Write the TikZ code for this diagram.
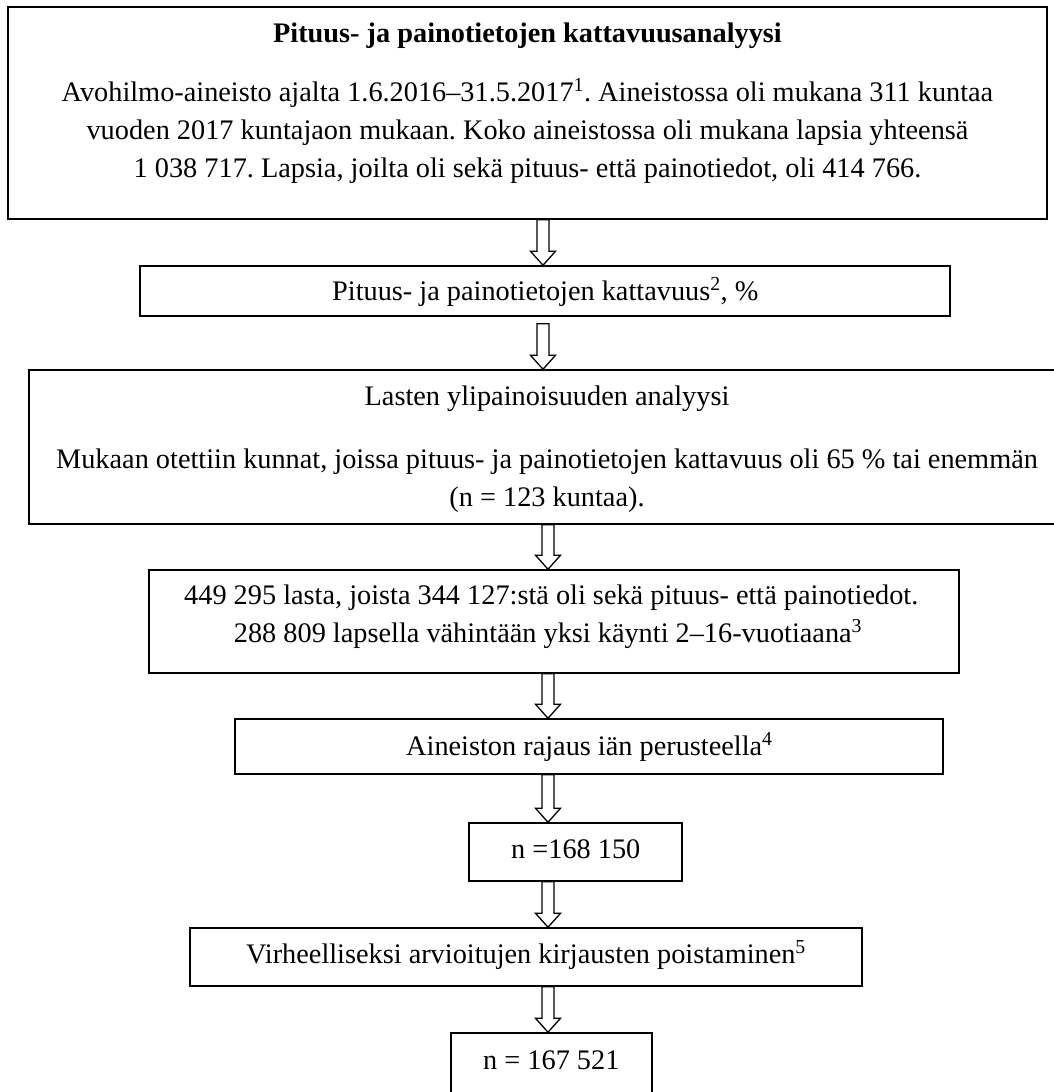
\documentclass[tikz,border=0pt]{standalone}
\usepackage{fontspec}
\setmainfont{Liberation Serif}
\usetikzlibrary{calc}
\frenchspacing
\newcommand\blockarrow[4]{%
  \draw[blockarr] ($(#2.south -| #1)+(-6,#4)$) -- ($(#3.north -| #1)+(-6,-14)$)
    -- ($(#3.north -| #1)+(-12.5,-14)$) -- (#3.north -| #1)
    -- ($(#3.north -| #1)+(12.5,-14)$) -- ($(#3.north -| #1)+(6,-14)$)
    -- ($(#2.south -| #1)+(6,#4)$) -- cycle;}
\begin{document}
\begin{tikzpicture}[x=1pt,y=-1pt,
  flowbox/.style={draw, line width=1.5pt, rectangle, inner sep=0pt},
  txt/.style={inner sep=0pt, font=\fontsize{28.3}{38}\selectfont},
  blockarr/.style={draw, fill=white, line width=1.3pt, line join=miter}]
\useasboundingbox (0,0) rectangle (1054,1092);
\clip (0,0) rectangle (1054,1092);
% boxes
\node[flowbox, minimum width=1039pt, minimum height=212pt] (b1) at (527.5,113) {};
\node[flowbox, minimum width=810pt, minimum height=50pt] (b2) at (545,291) {};
\node[flowbox, minimum width=1032pt, minimum height=154pt] (b3) at (545,447) {};
\node[flowbox, minimum width=810pt, minimum height=103pt] (b4) at (554,621.5) {};
\node[flowbox, minimum width=708pt, minimum height=55pt] (b5) at (589,746.5) {};
\node[flowbox, minimum width=213pt, minimum height=58pt] (b6) at (575.5,852) {};
\node[flowbox, minimum width=672pt, minimum height=58pt] (b7) at (526,957) {};
\node[flowbox, minimum width=201pt, minimum height=67pt] (b8) at (551.5,1066.5) {};
% texts
\node[txt, anchor=base] (t1a) at (527.5,42) {\bfseries Pituus- ja painotietojen kattavuusanalyysi};
\node[txt, anchor=base] (t1b) at (527.5,101) {Avohilmo-aineisto ajalta 1.6.2016–31.5.2017\textsuperscript{1}. Aineistossa oli mukana 311 kuntaa};
\node[txt, anchor=base] (t1c) at (527.5,139) {vuoden 2017 kuntajaon mukaan. Koko aineistossa oli mukana lapsia yhteensä};
\node[txt, anchor=base] (t1d) at (527.5,177) {1 038 717. Lapsia, joilta oli sekä pituus- että painotiedot, oli 414 766.};
\node[txt, anchor=base west] (t2) at (332,300) {Pituus- ja painotietojen kattavuus\textsuperscript{2}, \%};
\node[txt, anchor=base] (t3a) at (547,405) {Lasten ylipainoisuuden analyysi};
\node[txt, anchor=base] (t3b) at (547,468) {Mukaan otettiin kunnat, joissa pituus- ja painotietojen kattavuus oli 65 \% tai enemmän};
\node[txt, anchor=base] (t3c) at (547,506) {(n = 123 kuntaa).};
\node[txt, anchor=base west] (t4a) at (184,604) {449 295 lasta, joista 344 127:stä oli sekä pituus- että painotiedot.};
\node[txt, anchor=base] (t4b) at (548,642) {288 809 lapsella vähintään yksi käynti 2–16-vuotiaana\textsuperscript{3}};
\node[txt, anchor=base west] (t5) at (406,755) {Aineiston rajaus iän perusteella\textsuperscript{4}};
\node[txt, anchor=base west] (t6) at (511,858) {n =168 150};
\node[txt, anchor=base west] (t7) at (246,963) {Virheelliseksi arvioitujen kirjausten poistaminen\textsuperscript{5}};
\node[txt, anchor=base west] (t8) at (483,1069) {n = 167 521};
% arrows
\coordinate (xa) at (543,0);
\coordinate (xb) at (548,0);
\blockarrow{xa}{b1}{b2}{0}
\blockarrow{xa}{b2}{b3}{7}
\blockarrow{xb}{b3}{b4}{0}
\blockarrow{xb}{b4}{b5}{0}
\blockarrow{xb}{b5}{b6}{0}
\blockarrow{xb}{b6}{b7}{0}
\blockarrow{xb}{b7}{b8}{0}
\end{tikzpicture}
\end{document}
